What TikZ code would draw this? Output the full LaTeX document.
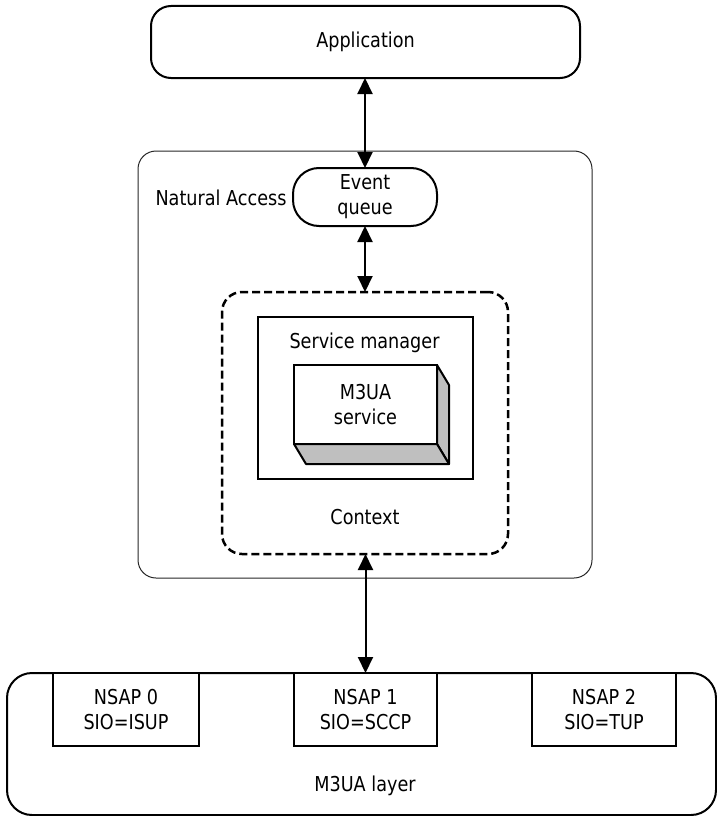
\documentclass[tikz,border=0pt]{standalone}
\usepackage{fontspec}
\setmainfont{DejaVu Sans}[FakeStretch=0.86]
\usetikzlibrary{arrows.meta}
\begin{document}
\begin{tikzpicture}[x=1pt,y=-1pt,
  font=\fontsize{20.5}{25}\selectfont,
  box/.style={draw, line width=2pt, inner sep=0pt, outer sep=0pt, align=center, fill=white},
  roundbox/.style={box, rounded corners=20pt},
  label/.style={inner sep=0pt, align=center},
  biarrow/.style={line width=2pt, {Triangle[length=16pt,width=15pt]}-{Triangle[length=16pt,width=15pt]}}]
\useasboundingbox (0,0) rectangle (717,816);

% top application block
\node[roundbox, minimum width=429pt, minimum height=72pt] (app) at (365.5,42) {Application};

% Natural Access frame
\node[draw, line width=1pt, draw=black!85, rounded corners=18pt, inner sep=0pt, outer sep=0pt,
      minimum width=454pt, minimum height=427pt] (na) at (365,364.5) {};
\node[label] (nalabel) at (221,198) {Natural Access};

% event queue
\node[box, rounded corners=26pt, minimum width=144pt, minimum height=58pt] (eq) at (365,197) {Event\\queue};

% context (dashed)
\node[draw, line width=2.5pt, dash pattern=on 8pt off 4pt, rounded corners=20pt, inner sep=0pt, outer sep=0pt,
      minimum width=286pt, minimum height=262pt] (ctx) at (365,423) {};
\node[label] (ctxlabel) at (365,517) {Context};

% service manager
\node[box, minimum width=215pt, minimum height=162pt] (sm) at (365.5,398) {};
\node[label] (smlabel) at (364.5,343) {Service manager};

% M3UA service block with 3-D faces
\node[box, minimum width=143pt, minimum height=79pt] (svc) at (365.5,404.5) {M3UA\\service};
\filldraw[fill=black!25, line width=2pt, line join=round]
  (svc.north east) -- ++(12,20) -- ++(0,79) -- (svc.south east) -- cycle;
\filldraw[fill=black!25, line width=2pt, line join=round]
  (svc.south west) -- ++(12,20) -- ++(143,0) -- (svc.south east) -- cycle;

% M3UA layer
\node[draw, line width=2pt, rounded corners=25pt, inner sep=0pt, outer sep=0pt,
      minimum width=709pt, minimum height=142pt] (layer) at (361.5,744) {};
\node[label] (layerlabel) at (365,786) {M3UA layer};

% NSAPs
\node[box, minimum width=146pt, minimum height=73pt] (nsap0) at (126,709.5) {NSAP 0\\SIO=ISUP};
\node[box, minimum width=143pt, minimum height=73pt] (nsap1) at (365.5,709.5) {NSAP 1\\SIO=SCCP};
\node[box, minimum width=144pt, minimum height=73pt] (nsap2) at (604,709.5) {NSAP 2\\SIO=TUP};

% connectors
\draw[biarrow] (app.south -| eq.north) -- (eq.north);
\draw[biarrow] (eq.south) -- (eq.south |- ctx.north);
\draw[biarrow] (ctx.south -| nsap1.north) -- (nsap1.north);
\end{tikzpicture}
\end{document}
